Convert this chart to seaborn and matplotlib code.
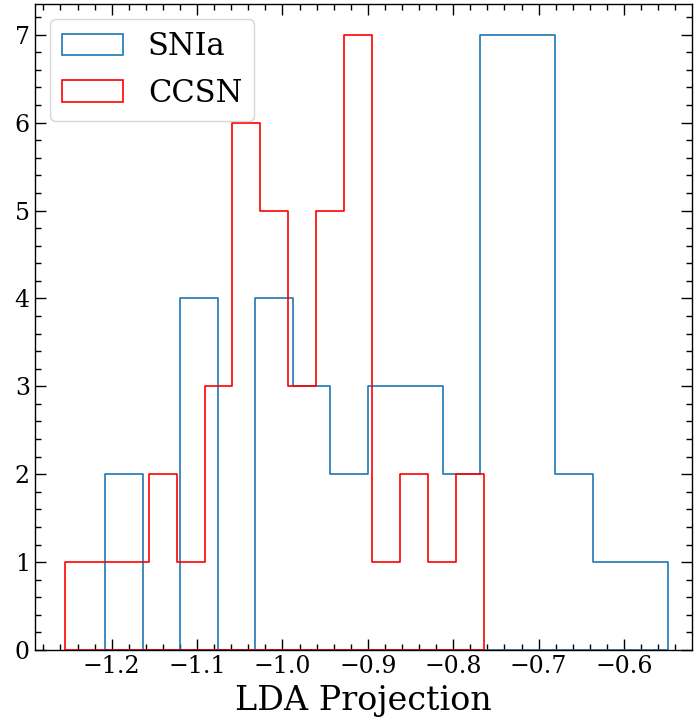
import numpy as np
import pandas as pd
import matplotlib
matplotlib.use("Agg")
import matplotlib.pyplot as plt
from matplotlib.patches import Patch
import seaborn as sns

# Data (counts per bin, 15 bins each)
snia_counts = [2, 0, 4, 0, 4, 3, 2, 3, 3, 2, 7, 7, 2, 1, 1]
snia_range = (-1.2078, -0.5485)
ccsn_counts = [1, 1, 1, 2, 1, 3, 6, 5, 3, 5, 7, 1, 2, 1, 2]
ccsn_range = (-1.2547, -0.7643)
labels = ["SNIa", "CCSN"]
colors = ["#1f77b4", "red"]
x_limits = (-1.2902, -0.5207)

sns.set_style("ticks")
plt.rcParams["font.family"] = ["DejaVu Serif"]
plt.rcParams["mathtext.fontset"] = "dejavuserif"
for k in ["text.color", "axes.labelcolor", "xtick.color", "ytick.color", "axes.edgecolor"]:
    plt.rcParams[k] = "black"

fig = plt.figure(figsize=(6.94, 7.19), dpi=100)
ax = fig.add_axes([0.05, 0.096, 0.9467, 0.8985])


def centers(rng, n):
    edges = np.linspace(rng[0], rng[1], n + 1)
    return (edges[:-1] + edges[1:]) / 2


for counts, rng, col in [(snia_counts, snia_range, colors[0]),
                         (ccsn_counts, ccsn_range, colors[1])]:
    df = pd.DataFrame({"x": centers(rng, len(counts)), "w": counts})
    sns.histplot(data=df, x="x", weights="w", bins=len(counts), binrange=rng,
                 element="step", fill=True, color=col, facecolor="none",
                 edgecolor=col, linewidth=1.2, ax=ax)

ax.set_xlim(*x_limits)
ax.set_xlabel("LDA Projection", fontsize=24, labelpad=5)
ax.set_ylabel("")
ax.xaxis.set_major_locator(matplotlib.ticker.MultipleLocator(0.1))
ax.xaxis.set_minor_locator(matplotlib.ticker.MultipleLocator(0.02))
ax.yaxis.set_major_locator(matplotlib.ticker.MultipleLocator(1))
ax.yaxis.set_minor_locator(matplotlib.ticker.MultipleLocator(0.2))
ax.tick_params(which="both", direction="in", top=True, right=True, labelsize=17)
ax.tick_params(which="major", length=8, width=1)
ax.tick_params(which="minor", length=4, width=1)
for s in ax.spines.values():
    s.set_visible(True)
    s.set_linewidth(1.0)
    s.set_color("black")

handles = [Patch(facecolor="none", edgecolor=c, linewidth=1.2) for c in colors]
ax.legend(handles, labels, loc="upper left", fontsize=22, frameon=True)

fig.savefig("out.png", dpi=100)
